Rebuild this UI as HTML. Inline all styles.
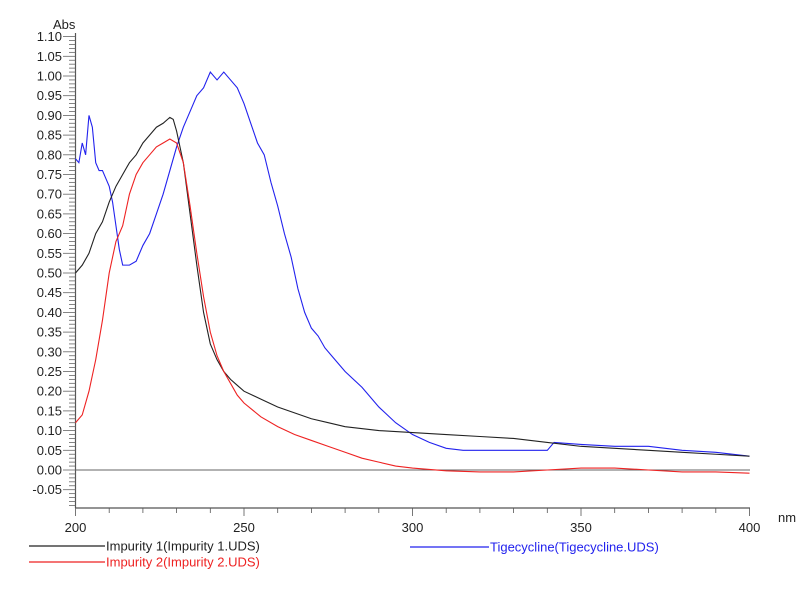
<!DOCTYPE html>
<html><head><meta charset="utf-8"><style>
body{margin:0;background:#fff;width:811px;height:591px;overflow:hidden}
svg{display:block;font-family:"Liberation Sans",Arial,sans-serif}
</style></head><body>
<svg id="chart" width="811" height="591"></svg>
<script>
const xTickLabels=[200,250,300,350,400];
const yTickLabels=[-0.05,0,0.05,0.1,0.15,0.2,0.25,0.3,0.35,0.4,0.45,0.5,0.55,0.6,0.65,0.7,0.75,0.8,0.85,0.9,0.95,1.0,1.05,1.1];
const imp1X=[200,202,204,206,208,210,212,214,216,218,220,222,224,226,228,229,230,232,234,236,238,240,242,244,246,248,250,255,260,265,270,275,280,290,300,310,320,330,340,350,360,370,380,390,400];
const imp1Y=[0.50,0.52,0.55,0.60,0.63,0.68,0.72,0.75,0.78,0.80,0.83,0.85,0.87,0.88,0.895,0.89,0.86,0.78,0.65,0.52,0.40,0.32,0.28,0.25,0.23,0.215,0.20,0.18,0.16,0.145,0.13,0.12,0.11,0.10,0.095,0.09,0.085,0.08,0.07,0.06,0.055,0.05,0.045,0.04,0.035];
const imp2X=[200,202,204,206,208,210,212,214,216,218,220,222,224,226,228,230,232,234,236,238,240,242,244,246,248,250,255,260,265,270,275,280,285,290,295,300,310,320,330,340,350,360,370,380,390,400];
const imp2Y=[0.12,0.14,0.20,0.28,0.38,0.50,0.58,0.62,0.70,0.75,0.78,0.80,0.82,0.83,0.84,0.83,0.78,0.67,0.55,0.44,0.35,0.29,0.25,0.22,0.19,0.17,0.135,0.11,0.09,0.075,0.06,0.045,0.03,0.02,0.01,0.005,-0.002,-0.005,-0.005,0,0.005,0.005,0,-0.005,-0.005,-0.008];
const tigX=[200,201,202,203,204,205,206,207,208,209,210,211,212,213,214,216,218,220,222,224,226,228,230,232,234,236,238,240,242,244,246,248,250,252,254,256,258,260,262,264,266,268,270,272,274,276,278,280,285,290,295,300,305,310,315,320,330,340,342,350,360,370,380,390,400];
const tigY=[0.79,0.78,0.83,0.80,0.90,0.87,0.78,0.76,0.76,0.74,0.72,0.68,0.62,0.56,0.52,0.52,0.53,0.57,0.60,0.65,0.70,0.76,0.82,0.87,0.91,0.95,0.97,1.01,0.99,1.01,0.99,0.97,0.93,0.88,0.83,0.80,0.73,0.67,0.60,0.54,0.46,0.40,0.36,0.34,0.31,0.29,0.27,0.25,0.21,0.16,0.12,0.09,0.07,0.055,0.05,0.05,0.05,0.05,0.07,0.065,0.06,0.06,0.05,0.045,0.035];

const NS="http://www.w3.org/2000/svg";
const svg=document.getElementById('chart');
const X=v=>75.5+(v-200)*3.37;
const Y=v=>470-v*394;
function mk(t,a,p){const e=document.createElementNS(NS,t);for(const k in a)e.setAttribute(k,a[k]);(p||svg).appendChild(e);return e;}
const axes=mk('g',{});


mk('line',{x1:75.5,y1:33,x2:75.5,y2:508,stroke:'#555','stroke-width':1.2},axes);
mk('line',{x1:75.5,y1:508,x2:750,y2:508,stroke:'#555','stroke-width':1.2},axes);
mk('line',{x1:75.5,y1:Y(0),x2:750,y2:Y(0),stroke:'#666','stroke-width':1},axes);
for(let i=-10;i<=110;i++){const y=Y(i/100);if(y>508)continue;const maj=i%5===0;mk('line',{x1:maj?63:69,y1:y,x2:75.5,y2:y,stroke:'#666','stroke-width':0.8},axes);}
yTickLabels.forEach(v=>{const t=mk('text',{x:62,y:Y(v)+4.5,'text-anchor':'end','font-size':13,fill:'#222'},axes);t.textContent=v.toFixed(2);

});
for(let n=200;n<=400;n+=10){mk('line',{x1:X(n),y1:508,x2:X(n),y2:n%50===0?516:513,stroke:'#555','stroke-width':0.8},axes);}
xTickLabels.forEach(v=>{const t=mk('text',{x:X(v),y:532,'text-anchor':'middle','font-size':13,fill:'#222'},axes);t.textContent=v;

});
const ya=mk('text',{x:53,y:29,'font-size':13,fill:'#222'});ya.textContent='Abs';


const xa=mk('text',{x:778,y:522,'font-size':13,fill:'#222'});xa.textContent='nm';


function series(xs,ys,c,name){const p=mk('polyline',{points:xs.map((x,i)=>X(x)+','+Y(ys[i])).join(' '),fill:'none',stroke:c,'stroke-width':1.1});

}
series(tigX,tigY,'#2222ee','series-tigecycline');
series(imp1X,imp1Y,'#222','series-impurity-1');
series(imp2X,imp2Y,'#ee2222','series-impurity-2');
function leg(x1,x2,y,c,txt,name){const g=mk('g',{});


mk('line',{x1:x1,y1:y,x2:x2,y2:y,stroke:c,'stroke-width':1.2},g);
const t=mk('text',{x:x2+1,y:y+4.5,'font-size':13,fill:c},g);t.textContent=txt;}
leg(29,105,546,'#222','Impurity 1(Impurity 1.UDS)','legend-impurity-1');
leg(29,105,562,'#ee2222','Impurity 2(Impurity 2.UDS)','legend-impurity-2');
leg(410,489,547,'#2222ee','Tigecycline(Tigecycline.UDS)','legend-tigecycline');
</script>
</body></html>
